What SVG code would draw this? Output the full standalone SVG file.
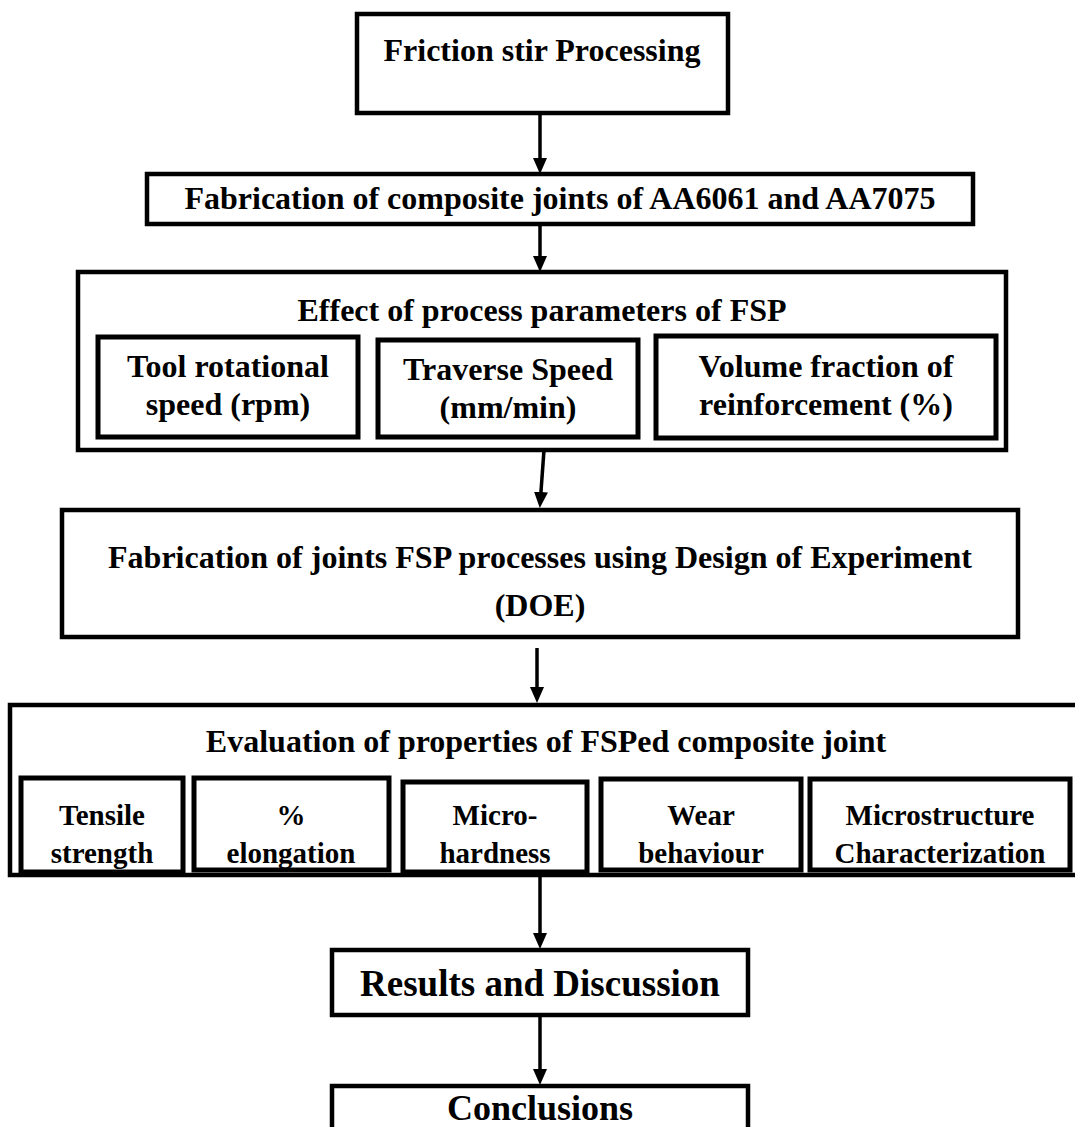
<svg xmlns="http://www.w3.org/2000/svg" width="1075" height="1127" viewBox="0 0 1075 1127">
<style>
.box{fill:#fff;stroke:#000;stroke-width:4.5}
.sub{fill:#fff;stroke:#000;stroke-width:5}
.t{font-family:"Liberation Serif","Times New Roman",serif;font-weight:bold;fill:#000;text-anchor:middle}
.s{font-size:32px}
.m{font-size:29px}
.l{font-size:37px}
.c{stroke:#000;stroke-width:3.5;fill:none}
</style>
<defs>
<marker id="ah" markerUnits="userSpaceOnUse" markerWidth="16" markerHeight="14" refX="2" refY="7" orient="auto" viewBox="0 0 16 14">
<path d="M0,0 L16,7 L0,14 Z" fill="#000"/>
</marker>
</defs>
<rect width="1075" height="1127" fill="#fff"/>
<g id="connectors">
<path class="c" d="M540,113 L540,160" marker-end="url(#ah)"/>
<path class="c" d="M540,224 L540,258" marker-end="url(#ah)"/>
<path class="c" d="M544,450 L540.8,494" marker-end="url(#ah)"/>
<path class="c" d="M537,648 L537,689" marker-end="url(#ah)"/>
<path class="c" d="M540,875 L540,935" marker-end="url(#ah)"/>
<path class="c" d="M540,1010 L540,1071" marker-end="url(#ah)"/>
</g>
<g id="n1"><rect class="box" x="357" y="14" width="371" height="99"/><text class="t s" x="542" y="61">Friction stir Processing</text></g>
<g id="n2"><rect class="box" x="147" y="174" width="826" height="50"/><text class="t s" x="560" y="209">Fabrication of composite joints of AA6061 and AA7075</text></g>
<g id="n3"><rect class="box" x="78" y="272" width="928" height="178"/><text class="t s" x="542" y="321">Effect of process parameters of FSP</text></g>
<g id="n3a"><rect class="sub" x="98" y="337" width="260" height="100"/><text class="t s" x="228" y="377">Tool rotational</text><text class="t s" x="228" y="415">speed (rpm)</text></g>
<g id="n3b"><rect class="sub" x="378" y="340" width="260" height="97"/><text class="t s" x="508" y="380">Traverse Speed</text><text class="t s" x="508" y="418">(mm/min)</text></g>
<g id="n3c"><rect class="sub" x="656" y="336" width="340" height="102"/><text class="t s" x="826" y="377">Volume fraction of</text><text class="t s" x="826" y="415">reinforcement (%)</text></g>
<g id="n4"><rect class="box" x="62" y="510" width="956" height="127"/><text class="t s" x="540" y="568" textLength="864" lengthAdjust="spacingAndGlyphs">Fabrication of joints FSP processes using Design of Experiment</text><text class="t s" x="540" y="616">(DOE)</text></g>
<g id="n5"><rect class="box" x="10" y="705" width="1080" height="170"/><text class="t s" x="546" y="752">Evaluation of properties of FSPed composite joint</text></g>
<g id="n5a"><rect class="sub" x="21" y="778" width="162" height="94"/><text class="t m" x="102" y="825">Tensile</text><text class="t m" x="102" y="863">strength</text></g>
<g id="n5b"><rect class="sub" x="194" y="778" width="195" height="92"/><text class="t m" x="291" y="825">%</text><text class="t m" x="291" y="863">elongation</text></g>
<g id="n5c"><rect class="sub" x="403" y="782" width="184" height="90"/><text class="t m" x="495" y="825">Micro-</text><text class="t m" x="495" y="863">hardness</text></g>
<g id="n5d"><rect class="sub" x="601" y="779" width="200" height="91"/><text class="t m" x="701" y="825">Wear</text><text class="t m" x="701" y="863">behaviour</text></g>
<g id="n5e"><rect class="sub" x="810" y="779" width="260" height="91"/><text class="t m" x="940" y="825">Microstructure</text><text class="t m" x="940" y="863">Characterization</text></g>
<g id="n6"><rect class="box" x="332" y="950" width="416" height="65"/><text class="t l" x="540" y="996">Results and Discussion</text></g>
<g id="n7"><rect class="box" x="332" y="1086" width="416" height="60"/><text class="t" x="540" y="1120" style="font-size:36px">Conclusions</text></g>
</svg>
